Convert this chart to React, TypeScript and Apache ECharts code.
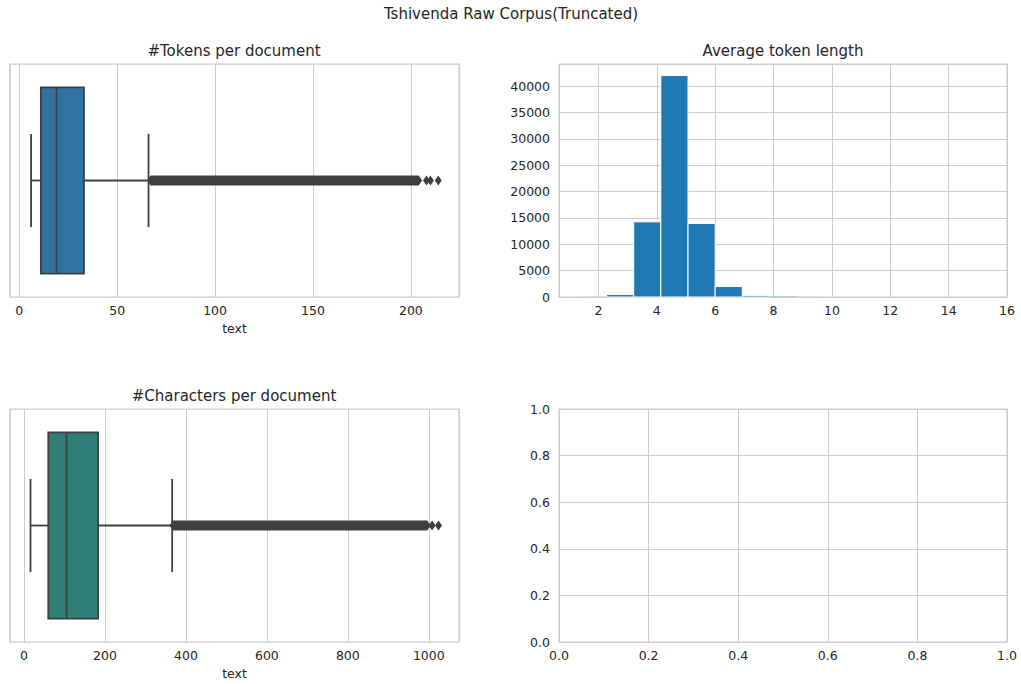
import React, { useEffect, useRef } from 'react';
import * as echarts from 'echarts';

const SUPTITLE = 'Tshivenda Raw Corpus(Truncated)';
const panelTitles = ['#Tokens per document', 'Average token length', '#Characters per document'];
const xAxisName = 'text';

// Box plot stats: [whisker low, Q1, median, Q3, whisker high]
const tokenBox = [6, 11, 19, 33, 66];
const tokenOutlierRange = [67, 204];
const tokenOutliers = [208, 210, 214];
const tokenAxisRange = [-4.77, 224.6];

const charBox = [16, 60, 105, 183, 366];
const charOutlierRange = [368, 996];
const charOutliers = [1008, 1024];
const charAxisRange = [-34.6, 1074.6];

// Histogram of average token length
const binEdges = [1.35, 2.28, 3.21, 4.14, 5.07, 6.0, 6.93, 7.86, 8.79, 9.72, 10.65, 11.58, 12.51, 13.44, 14.37, 15.3];
const binCounts = [10, 460, 14250, 42000, 13950, 1980, 300, 40, 10, 4, 2, 1, 1, 0, 1];
const histXRange = [0.65, 16.0];
const histYRange = [0, 44190];

const TEXT = '#262626';
const GRIDC = '#cccccc';
const EDGE = '#3f3f3f';
const FONT = 'DejaVu Sans';

const stepFormatter = (step: number, digits = 0) => (v: number) =>
  Math.abs(v / step - Math.round(v / step)) < 1e-6 ? v.toFixed(digits) : '';

function makeBoxRenderer(stats: number[], band: number[], fill: string) {
  return (params: any, api: any) => {
    const [w0, q1, med, q3, w1] = stats;
    const p = (x: number, y: number) => api.coord([x, y]);
    const tl = p(q1, 0.9);
    const br = p(q3, 0.1);
    const lineStyle = { stroke: EDGE, lineWidth: 1.8, fill: null };
    const ln = (a: number[], b: number[]) => ({
      type: 'line',
      shape: { x1: a[0], y1: a[1], x2: b[0], y2: b[1] },
      style: lineStyle,
    });
    const b0 = p(band[0], 0.5);
    const b1 = p(band[1], 0.5);
    const hh = 5;
    const hw = 3.5;
    return {
      type: 'group',
      children: [
        ln(p(w0, 0.5), p(q1, 0.5)),
        ln(p(q3, 0.5), p(w1, 0.5)),
        ln(p(w0, 0.3), p(w0, 0.7)),
        ln(p(w1, 0.3), p(w1, 0.7)),
        {
          type: 'rect',
          shape: { x: tl[0], y: tl[1], width: br[0] - tl[0], height: br[1] - tl[1] },
          style: { fill, stroke: EDGE, lineWidth: 1.8 },
        },
        ln(p(med, 0.9), p(med, 0.1)),
        {
          type: 'polygon',
          shape: {
            points: [
              [b0[0] - hw, b0[1]],
              [b0[0], b0[1] - hh],
              [b1[0], b1[1] - hh],
              [b1[0] + hw, b1[1]],
              [b1[0], b1[1] + hh],
              [b0[0], b0[1] + hh],
            ],
          },
          style: { fill: EDGE },
        },
      ],
    };
  };
}

function histRenderer(params: any, api: any) {
  const x0 = api.value(0);
  const x1 = api.value(1);
  const c = api.value(2);
  if (!c) return null;
  const a = api.coord([x0, c]);
  const b = api.coord([x1, 0]);
  const h = b[1] - a[1];
  return {
    type: 'rect',
    shape: { x: a[0], y: a[1], width: b[0] - a[0], height: h },
    style: { fill: '#1f77b4', stroke: h < 1 ? null : '#ffffff', lineWidth: 1 },
  };
}

const axisLabelStyle = { color: TEXT, fontSize: 12.5, fontFamily: FONT };

function valueXAxis(gridIndex: number, range: number[], splitNumber: number, step: number, digits = 0, name = '') {
  return {
    type: 'value',
    gridIndex,
    min: range[0],
    max: range[1],
    splitNumber,
    name,
    nameLocation: 'middle',
    nameGap: 25,
    nameTextStyle: { color: TEXT, fontSize: 12.5, fontFamily: FONT },
    axisLine: { show: false },
    axisTick: { show: false },
    axisLabel: { ...axisLabelStyle, margin: 7, formatter: stepFormatter(step, digits) },
    splitLine: { show: true, lineStyle: { color: GRIDC, width: 1 } },
  };
}

export default function App() {
  const ref = useRef<HTMLDivElement>(null);
  useEffect(() => {
    if (!ref.current) return;
    const chart = echarts.init(ref.current, undefined, { renderer: 'svg' });
    const gridBase = { show: true, borderColor: GRIDC, borderWidth: 1.25, backgroundColor: '#ffffff' };
    const grids = [
      { ...gridBase, left: 10, top: 64, width: 449, height: 233 },
      { ...gridBase, left: 559, top: 64, width: 448, height: 233 },
      { ...gridBase, left: 10, top: 409, width: 449, height: 233 },
      { ...gridBase, left: 559, top: 409, width: 448, height: 233 },
    ];
    const hiddenY = (gridIndex: number) => ({
      type: 'value',
      gridIndex,
      min: 0,
      max: 1,
      show: false,
      splitLine: { show: false },
    });
    const option: any = {
      animation: false,
      backgroundColor: '#ffffff',
      textStyle: { fontFamily: FONT },
      grid: grids,
      xAxis: [
        valueXAxis(0, tokenAxisRange, 5, 50, 0, xAxisName),
        valueXAxis(1, histXRange, 8, 2, 0),
        valueXAxis(2, charAxisRange, 5, 200, 0, xAxisName),
        { ...valueXAxis(3, [0, 1], 5, 0.2, 1), interval: 0.2 },
      ],
      yAxis: [
        hiddenY(0),
        {
          type: 'value',
          gridIndex: 1,
          min: histYRange[0],
          max: histYRange[1],
          interval: 5000,
          axisLine: { show: false },
          axisTick: { show: false },
          axisLabel: { ...axisLabelStyle, margin: 9, formatter: stepFormatter(5000) },
          splitLine: { show: true, lineStyle: { color: GRIDC, width: 1 } },
        },
        hiddenY(2),
        {
          type: 'value',
          gridIndex: 3,
          min: 0,
          max: 1,
          interval: 0.2,
          axisLine: { show: false },
          axisTick: { show: false },
          axisLabel: { ...axisLabelStyle, margin: 9, formatter: stepFormatter(0.2, 1) },
          splitLine: { show: true, lineStyle: { color: GRIDC, width: 1 } },
        },
      ],
      series: [
        {
          type: 'custom',
          xAxisIndex: 0,
          yAxisIndex: 0,
          data: [tokenBox],
          renderItem: makeBoxRenderer(tokenBox, tokenOutlierRange, '#3274a1'),
        },
        {
          type: 'scatter',
          xAxisIndex: 0,
          yAxisIndex: 0,
          symbol: 'diamond',
          symbolSize: [7, 10],
          itemStyle: { color: EDGE, opacity: 1 },
          data: tokenOutliers.map((v) => [v, 0.5]),
        },
        {
          type: 'custom',
          xAxisIndex: 1,
          yAxisIndex: 1,
          encode: { x: [0, 1], y: 2 },
          data: binCounts.map((c, i) => [binEdges[i], binEdges[i + 1], c]),
          renderItem: histRenderer,
        },
        {
          type: 'custom',
          xAxisIndex: 2,
          yAxisIndex: 2,
          data: [charBox],
          renderItem: makeBoxRenderer(charBox, charOutlierRange, '#2e8078'),
        },
        {
          type: 'scatter',
          xAxisIndex: 2,
          yAxisIndex: 2,
          symbol: 'diamond',
          symbolSize: [7, 10],
          itemStyle: { color: EDGE, opacity: 1 },
          data: charOutliers.map((v) => [v, 0.5]),
        },
        {
          type: 'scatter',
          xAxisIndex: 3,
          yAxisIndex: 3,
          data: [],
        },
      ],
      graphic: [
        {
          type: 'text',
          x: 511,
          y: 14,
          style: { text: SUPTITLE, fill: TEXT, fontSize: 15, fontFamily: FONT, align: 'center', verticalAlign: 'middle' },
        },
        {
          type: 'text',
          x: 234,
          y: 51,
          style: { text: panelTitles[0], fill: TEXT, fontSize: 15, fontFamily: FONT, align: 'center', verticalAlign: 'middle' },
        },
        {
          type: 'text',
          x: 783,
          y: 51,
          style: { text: panelTitles[1], fill: TEXT, fontSize: 15, fontFamily: FONT, align: 'center', verticalAlign: 'middle' },
        },
        {
          type: 'text',
          x: 234,
          y: 396,
          style: { text: panelTitles[2], fill: TEXT, fontSize: 15, fontFamily: FONT, align: 'center', verticalAlign: 'middle' },
        },
      ],
    };
    chart.setOption(option);
    return () => chart.dispose();
  }, []);
  return <div ref={ref} style={{ position: 'absolute', left: 0, top: 0, width: 1021, height: 684 }} />;
}
